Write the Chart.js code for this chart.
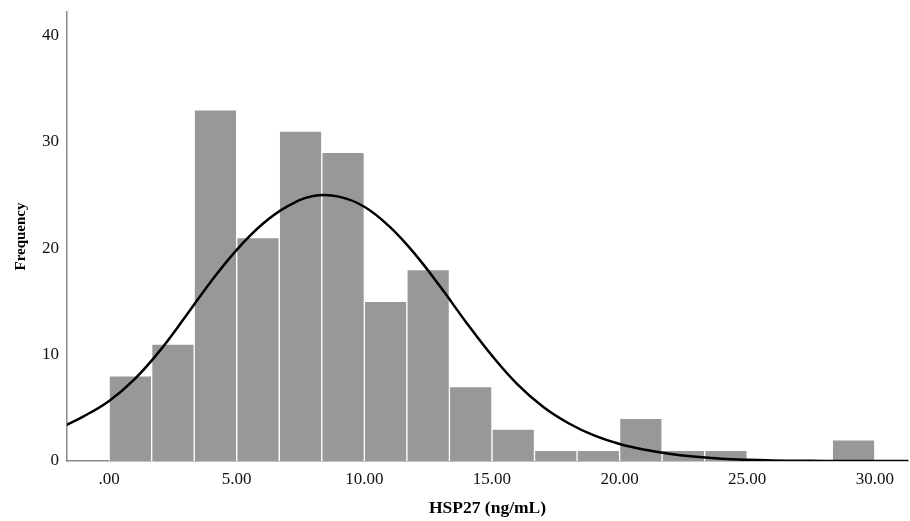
<!DOCTYPE html>
<html>
<head>
<meta charset="utf-8">
<script src="https://cdn.jsdelivr.net/npm/chart.js@4/dist/chart.umd.min.js"></script>
<style>
html,body{margin:0;padding:0;background:#fff;}
#wrap{width:910px;height:521px;}
</style>
</head>
<body>
<div id="wrap"><canvas id="c" width="910" height="521"></canvas></div>
<script>
// Histogram bins (HSP27 ng/mL), bin width 30/18
const binStarts = [0,1.667,3.333,5,6.667,8.333,10,11.667,13.333,15,16.667,18.333,20,21.667,23.333,25,26.667,28.333];
const binWidth = 1.6667;
const frequencies = [8,11,33,21,31,29,15,18,7,3,1,1,4,1,1,0,0,2];
// Normal curve
const curveX = [-2,-1,0,1,2,3,4,5,6,7,8,9,10,11,12,13,14,15,16,17,18,19,20,21,22,23,24,25,26,27,28,29,30,31,32];
const curveY = [3.0,4.2,5.65,7.7,10.4,13.6,16.9,19.85,22.25,23.95,24.9,24.85,23.9,22.0,19.4,16.3,13.0,9.9,7.2,5.1,3.55,2.4,1.6,1.05,0.66,0.39,0.21,0.11,0.05,0.02,0.01,0,0,0,0];
const xTickValues = [0,5,10,15,20,25,30];
const xTickLabels = ['.00','5.00','10.00','15.00','20.00','25.00','30.00'];
const yTickValues = [0,10,20,30,40];

const barData = binStarts.map((s,i)=>({x:s+binWidth/2, y: frequencies[i]===0 ? null : frequencies[i]}));
const lineData = curveX.map((x,i)=>({x:x,y:curveY[i]}));

new Chart(document.getElementById('c'), {
  data: {
    datasets: [
      {
        type:'line', data: lineData, borderColor:'#000', borderWidth:2.5,
        pointRadius:0, tension:0.4, order:0, fill:false
      },
      {
        type:'bar', data: barData, backgroundColor:'#989898', borderColor:'#ffffff',
        borderWidth:1, borderSkipped:'start', barPercentage:1, categoryPercentage:1, order:1
      }
    ]
  },
  options: {
    responsive:false, animation:false,
    layout:{padding:{left:0,top:12,right:2,bottom:0}},
    plugins:{legend:{display:false}, tooltip:{enabled:false}},
    scales:{
      x:{
        type:'linear', min:-1.65, max:31.3, offset:false,
        grid:{display:false, drawTicks:false},
        border:{display:true,color:'#8a8a8a',width:1.5},
        afterBuildTicks:(s)=>{ s.ticks = xTickValues.map(v=>({value:v})); },
        ticks:{
          autoSkip:false, maxRotation:0, padding:8, color:'#111',
          font:{family:'"Liberation Serif", serif', size:17},
          callback:(v)=>{ const i = xTickValues.indexOf(v); return i>=0 ? xTickLabels[i] : ''; }
        },
        title:{display:true, text:'HSP27 (ng/mL)', color:'#000',
          font:{family:'"Liberation Serif", serif', size:17.5, weight:'bold'}, padding:{top:16,bottom:2}},
        afterFit:(s)=>{ s.height = 60; s.paddingLeft = 0; s.paddingRight = 0; }
      },
      y:{
        type:'linear', min:0, max:42.2,
        grid:{display:false, drawTicks:false},
        border:{display:true,color:'#8a8a8a',width:1.5},
        afterBuildTicks:(s)=>{ s.ticks = yTickValues.map(v=>({value:v})); },
        ticks:{ padding:8, color:'#111', font:{family:'"Liberation Serif", serif', size:17} },
        title:{display:true, text:'Frequency', color:'#000',
          font:{family:'"Liberation Serif", serif', size:15, weight:'bold'}, padding:{top:12,bottom:4}},
        afterFit:(s)=>{ s.width = 67; s.paddingTop = 0; s.paddingBottom = 0; }
      }
    }
  }
});
</script>
</body>
</html>
